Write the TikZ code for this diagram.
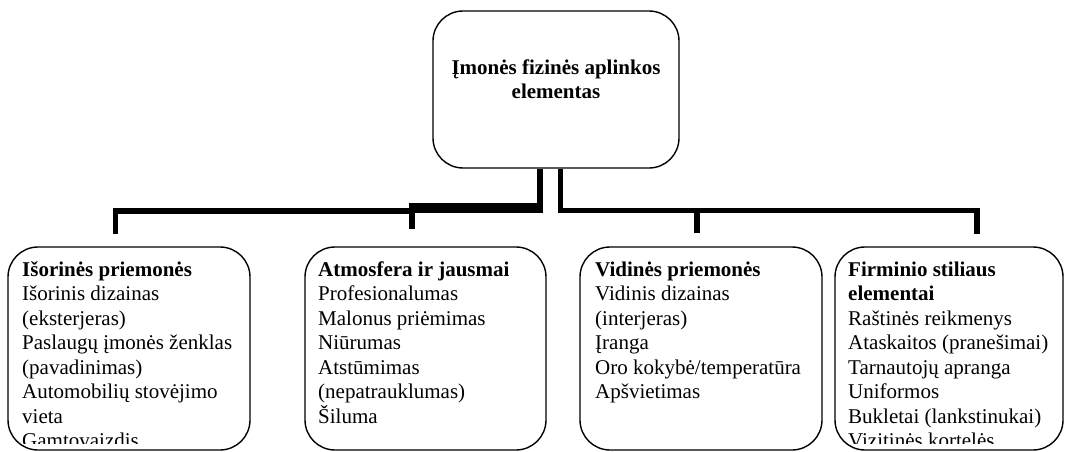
\documentclass[tikz,border=0pt]{standalone}
\usepackage{fontspec}
\setmainfont{Liberation Serif}
\newcommand{\topstrut}{\rule{0pt}{22pt}}
\begin{document}
\begin{tikzpicture}[x=1pt,y=1pt,
  box/.style={draw, line width=1.4pt, rounded corners=30pt, inner sep=0pt},
  conn/.style={line width=5.5pt},
  txt/.style={anchor=north west, align=left, inner sep=0pt,
    font=\fontsize{21}{24.5}\selectfont}]
\useasboundingbox (0,0) rectangle (1065,-452);
% top box
\node[box, minimum width=246pt, minimum height=157pt, align=center,
  font=\fontsize{21}{24}\selectfont\bfseries] (top) at (556,-89.5)
  {Įmonės fizinės aplinkos\\elementas\\[-4pt]\mbox{}};
% bottom boxes
\node[box, minimum width=242pt, minimum height=203pt] (b1) at (129,-348.5) {};
\node[box, minimum width=241pt, minimum height=203pt] (b2) at (425.5,-348.5) {};
\node[box, minimum width=242pt, minimum height=203pt] (b3) at (701,-348.5) {};
\node[box, minimum width=228pt, minimum height=203pt] (b4) at (949,-348.5) {};
% texts, clipped
\begin{scope}
\clip (0,-150) rectangle (1065,-443);
\node[txt] (t1) at (22,-254) {\topstrut\textbf{Išorinės priemonės}\\Išorinis dizainas\\(eksterjeras)\\Paslaugų įmonės ženklas\\(pavadinimas)\\Automobilių stovėjimo\\vieta\\Gamtovaizdis};
\node[txt] (t2) at (318,-254) {\topstrut\textbf{Atmosfera ir jausmai}\\Profesionalumas\\Malonus priėmimas\\Niūrumas\\Atstūmimas\\(nepatrauklumas)\\Šiluma};
\node[txt] (t3) at (595,-254) {\topstrut\textbf{Vidinės priemonės}\\Vidinis dizainas\\(interjeras)\\Įranga\\Oro kokybė/temperatūra\\Apšvietimas};
\node[txt] (t4) at (848,-254) {\topstrut\textbf{Firminio stiliaus}\\\textbf{elementai}\\Raštinės reikmenys\\Ataskaitos (pranešimai)\\Tarnautojų apranga\\Uniformos\\Bukletai (lankstinukai)\\Vizitinės kortelės};
\end{scope}
% connectors
\coordinate (d1) at (115.5,-234);
\coordinate (d2) at (412,-229);
\coordinate (d3) at (697,-233);
\coordinate (d4) at (977,-234);
\draw[conn] ([xshift=-16pt]top.south) -- (540,-210.5);
\draw[line width=10pt] (543,-208) -- (409,-208);
\draw[conn] (412,-205) -- (d2);
\draw[conn] (412,-211) -| (d1);
\draw[conn] ([xshift=4.5pt]top.south) -- (560.5,-210.5) -| (d4);
\draw[conn] (697,-210.5) -- (d3);
\end{tikzpicture}
\end{document}
